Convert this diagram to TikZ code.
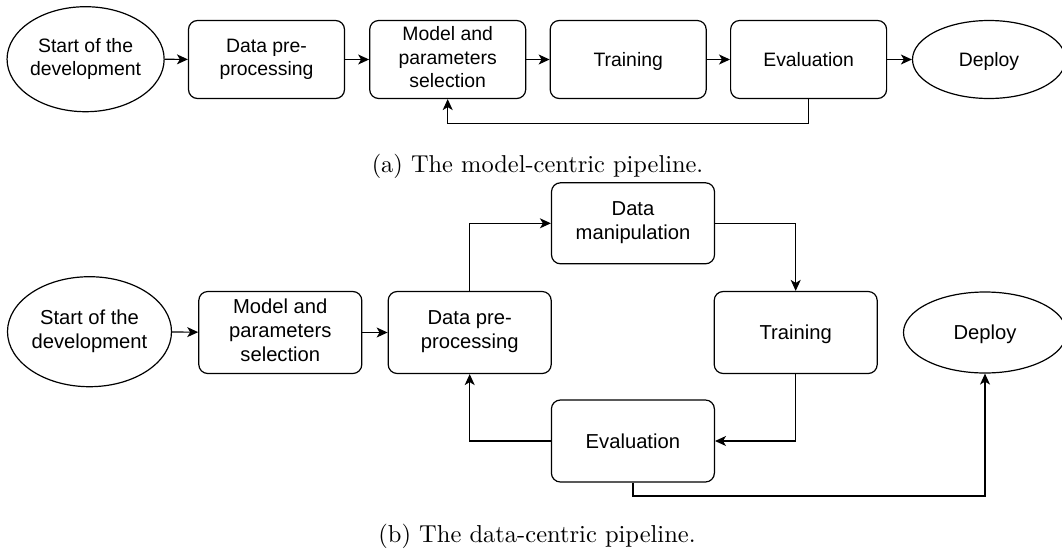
\documentclass[tikz,border=0pt]{standalone}
\usepackage{fontspec}
\setsansfont{Liberation Sans}
\usepackage{tikz}
\usetikzlibrary{calc,arrows.meta,shapes.geometric}
\tikzset{
	stagebox/.style={draw, line width=1.2pt, rounded corners=9pt, inner sep=0pt, align=center,
		execute at begin node=\rule{0pt}{0.9465em}, execute at end node=\rule[-0.2535em]{0pt}{0pt}},
	endnode/.style={stagebox, ellipse, rounded corners=0pt},
	toprow/.style={font=\sffamily\fontsize{19.4}{23.3}\selectfont},
	botrow/.style={font=\sffamily\fontsize{20.2}{24.2}\selectfont},
	flow/.style={line width=1.2pt, -{Stealth[length=11pt, width=10pt, inset=3pt]}}
}

\begin{document}
\begin{tikzpicture}[x=1pt, y=-1pt]
			%%%%% START %%%%%
			\useasboundingbox (0, 0) rectangle (1062, 549);
			
			% (a) model-centric
			\node[endnode, toprow, minimum width=156, minimum height=105] (start1) at (85.6, 59.2) {Start of the\\development};
			\node[stagebox, toprow, minimum width=156, minimum height=78] (prep1) at (266.5, 59.5) {Data pre-\\processing};
			\node[stagebox, toprow, minimum width=156, minimum height=78] (model1) at (447.7, 59.5) {Model and\\parameters\\selection};
			\node[stagebox, toprow, minimum width=156, minimum height=78] (train1) at (628.2, 59.5) {Training};
			\node[stagebox, toprow, minimum width=156, minimum height=78] (eval1) at (808.6, 59.5) {Evaluation};
			\node[endnode, toprow, minimum width=153, minimum height=78] (deploy1) at (989, 59.5) {Deploy};
			
			\draw[flow] (start1) -- (prep1);
			\draw[flow] (prep1) -- (model1);
			\draw[flow] (model1) -- (train1);
			\draw[flow] (train1) -- (eval1);
			\draw[flow] (eval1) -- (deploy1);
			\draw[flow] (eval1.south) -- ++(0, 24.5) -| (model1.south);
			
			\node[anchor=base] (capa) at (537.5, 172) {\scalebox{2.44}{(a) The model-centric pipeline.}};
			
			% (b) data-centric
			\node[endnode, botrow, minimum width=164, minimum height=110] (start2) at (89.5, 331.7) {Start of the\\development};
			\node[stagebox, botrow, minimum width=163, minimum height=82] (model2) at (280.3, 332.5) {Model and\\parameters\\selection};
			\node[stagebox, botrow, minimum width=163, minimum height=82] (prep2) at (469.7, 332.5) {Data pre-\\processing};
			\node[stagebox, botrow, minimum width=163, minimum height=81] (manip2) at (633, 223.3) {Data\\manipulation};
			\node[stagebox, botrow, minimum width=163, minimum height=82] (train2) at (795.7, 332.5) {Training};
			\node[stagebox, botrow, minimum width=163, minimum height=82] (eval2) at (632.9, 441) {Evaluation};
			\node[endnode, botrow, minimum width=163, minimum height=81] (deploy2) at (985, 332.5) {Deploy};
			
			\draw[flow] (start2) -- (model2);
			\draw[flow] (model2) -- (prep2);
			\draw[flow] (prep2.north) |- (manip2.west);
			\draw[flow] (manip2.east) -| (train2.north);
			\draw[flow] (train2.south) |- (eval2.east);
			\draw[flow] (eval2.west) -| (prep2.south);
			\draw[flow] (eval2.south) -- ++(0, 13.3) -| (deploy2.south);
			
			\node[anchor=base] (capb) at (537, 542) {\scalebox{2.45}{(b) The data-centric pipeline.}};
			%%%%% END %%%%%
\end{tikzpicture}
\end{document}
